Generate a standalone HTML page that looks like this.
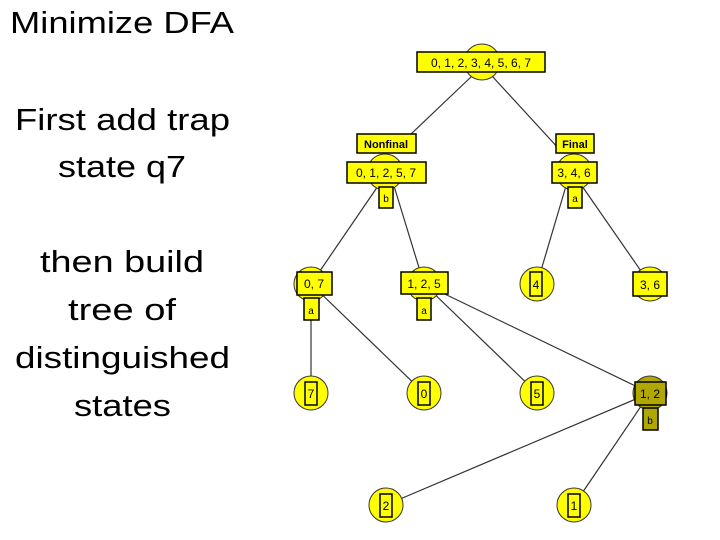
<!DOCTYPE html>
<html><head><meta charset="utf-8"><style>
html,body{margin:0;padding:0;background:#fff;}
svg{display:block;}
.t{font-family:"Liberation Sans",sans-serif;font-size:31px;fill:#000;}
.n{font-family:"Liberation Sans",sans-serif;font-size:12px;fill:#000;}
</style></head><body>
<svg width="720" height="540" viewBox="0 0 720 540" xmlns="http://www.w3.org/2000/svg">
<text class="t" x="10" y="33" textLength="224" lengthAdjust="spacingAndGlyphs">Minimize DFA</text>
<text class="t" x="15" y="130" textLength="215" lengthAdjust="spacingAndGlyphs">First add trap</text>
<text class="t" x="58" y="177" textLength="128" lengthAdjust="spacingAndGlyphs">state q7</text>
<text class="t" x="40" y="272" textLength="164" lengthAdjust="spacingAndGlyphs">then build</text>
<text class="t" x="68" y="320" textLength="108" lengthAdjust="spacingAndGlyphs">tree of</text>
<text class="t" x="15" y="368" textLength="215" lengthAdjust="spacingAndGlyphs">distinguished</text>
<text class="t" x="74" y="416" textLength="97" lengthAdjust="spacingAndGlyphs">states</text>

<g stroke="#333" stroke-width="1.2">
<line x1="472" y1="76" x2="410" y2="135"/>
<line x1="492" y1="76" x2="560" y2="150"/>
<line x1="378" y1="186" x2="311" y2="284"/>
<line x1="394" y1="186" x2="424" y2="284"/>
<line x1="566" y1="186" x2="537" y2="284"/>
<line x1="582" y1="186" x2="650" y2="284"/>
<line x1="311" y1="284" x2="311" y2="393"/>
<line x1="311" y1="284" x2="424" y2="393"/>
<line x1="424" y1="284" x2="537" y2="393"/>
<line x1="424" y1="284" x2="650" y2="393"/>
<line x1="650" y1="393" x2="386" y2="505"/>
<line x1="650" y1="393" x2="574" y2="505"/>
</g>

<g stroke="#333" stroke-width="1" fill="#ffff00">
<circle cx="482" cy="62" r="18"/>
<circle cx="385" cy="172" r="18"/>
<circle cx="574" cy="172" r="18"/>
<circle cx="311" cy="284" r="17"/>
<circle cx="424" cy="284" r="17"/>
<circle cx="537" cy="284" r="17"/>
<circle cx="650" cy="284" r="17"/>
<circle cx="311" cy="393" r="17"/>
<circle cx="424" cy="393" r="17"/>
<circle cx="537" cy="393" r="17"/>
<circle cx="650" cy="393" r="17" fill="#b0a800"/>
<circle cx="386" cy="505" r="17"/>
<circle cx="574" cy="505" r="17"/>
</g>

<g stroke="#000" stroke-width="1.5" fill="#ffff00">
<rect x="417" y="52" width="128" height="20"/>
<rect x="357" y="134" width="59" height="19"/>
<rect x="347" y="162" width="79" height="21"/>
<rect x="379" y="187" width="14" height="21"/>
<rect x="556" y="134" width="38" height="19"/>
<rect x="552" y="162" width="45" height="21"/>
<rect x="568" y="187" width="14" height="21"/>
<rect x="297" y="272" width="35" height="23"/>
<rect x="304" y="298" width="15" height="22"/>
<rect x="401" y="272" width="47" height="22"/>
<rect x="417" y="298" width="14" height="22"/>
<rect x="530" y="272" width="12" height="24"/>
<rect x="633" y="272" width="34" height="24"/>
<rect x="305" y="382" width="12" height="23"/>
<rect x="418" y="382" width="12" height="23"/>
<rect x="531" y="382" width="12" height="23"/>
<rect x="635" y="382" width="31" height="23" fill="#b0a800"/>
<rect x="643" y="408" width="15" height="22" fill="#b0a800"/>
<rect x="380" y="494" width="12" height="23"/>
<rect x="568" y="494" width="12" height="23"/>
</g>

<g class="n" text-anchor="middle">
<text x="481" y="67">0, 1, 2, 3, 4, 5, 6, 7</text>
<text x="386" y="148" font-weight="bold" font-size="11">Nonfinal</text>
<text x="386" y="177">0, 1, 2, 5, 7</text>
<text x="386" y="202" font-size="10">b</text>
<text x="575" y="148" font-weight="bold" font-size="11">Final</text>
<text x="574" y="177">3, 4, 6</text>
<text x="575" y="202" font-size="10">a</text>
<text x="314" y="288">0, 7</text>
<text x="311" y="314" font-size="10">a</text>
<text x="424" y="288">1, 2, 5</text>
<text x="424" y="314" font-size="10">a</text>
<text x="536" y="289">4</text>
<text x="650" y="289">3, 6</text>
<text x="311" y="398">7</text>
<text x="424" y="398">0</text>
<text x="537" y="398">5</text>
<text x="650" y="398">1, 2</text>
<text x="650" y="424" font-size="10">b</text>
<text x="386" y="510">2</text>
<text x="574" y="510">1</text>
</g>
</svg>
</body></html>
